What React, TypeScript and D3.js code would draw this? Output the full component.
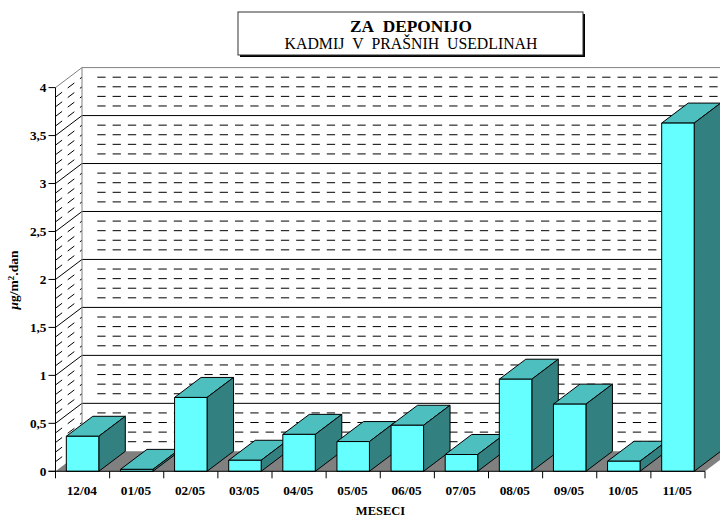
import React from "react";
import * as d3 from "d3";

const months = ["12/04","01/05","02/05","03/05","04/05","05/05","06/05","07/05","08/05","09/05","10/05","11/05"];
const cadmium = [0.365,0.02,0.77,0.115,0.385,0.31,0.48,0.175,0.96,0.70,0.105,3.63];
const yTicks = [0,0.5,1,1.5,2,2.5,3,3.5,4];
const minorTicks = [0.1,0.2,0.3,0.4,0.6,0.7,0.8,0.9,1.1,1.2,1.3,1.4,1.6,1.7,1.8,1.9,2.1,2.2,2.3,2.4,2.6,2.7,2.8,2.9,3.1,3.2,3.3,3.4,3.6,3.7,3.8,3.9];
const titleMain = "ZA\u00A0\u00A0DEPONIJO";
const titleSub = "KADMIJ\u00A0\u00A0V\u00A0\u00A0PRAŠNIH\u00A0\u00A0USEDLINAH";

const DX = 26.5, DY = -20;
const serif = "'Liberation Serif','Times New Roman',serif";

export default function App() {
  const x = d3.scaleBand<string>().domain(months).range([55.5, 705]).paddingInner(0.4).paddingOuter(0.2);
  const y = d3.scaleLinear().domain([0, 4]).range([471.3, 87.6]);
  const step = x.step();
  const w = x.bandwidth();
  const x0 = 55.5, xEnd = 705;
  const y0 = y(0);
  const dash = "8.3 7";
  return (
    <svg width={720} height={517} style={{ position: "absolute", left: 0, top: 0, background: "#fff", overflow: "hidden" }} fontFamily={serif}>
      {/* title */}
      <rect x={240} y={14} width={345} height={43} fill="#000" />
      <rect x={238} y={12} width={345} height={43} fill="#fff" stroke="#333" strokeWidth={1} />
      <text x={411} y={31.5} textAnchor="middle" fontSize={17.3} fontWeight="bold">{titleMain}</text>
      <text x={411} y={49} textAnchor="middle" fontSize={15.8}>{titleSub}</text>

      {/* walls */}
      <polygon points={[[x0,y0],[x0+DX,y0+DY],[xEnd+DX,y0+DY],[xEnd,y0]].join(" ")} fill="#808080" />
      {minorTicks.map(t => (
        <g key={t} stroke="#000" strokeWidth={1} strokeDasharray={dash}>
          <line x1={x0} y1={y(t)} x2={x0+DX} y2={y(t)+DY} />
          <line x1={x0+DX+15.3} y1={y(t)+DY} x2={720} y2={y(t)+DY} />
        </g>
      ))}
      {yTicks.slice(1, -1).map(t => (
        <g key={t} stroke="#000" strokeWidth={1}>
          <line x1={x0} y1={y(t)} x2={x0+DX} y2={y(t)+DY} />
          <line x1={x0+DX} y1={y(t)+DY} x2={720} y2={y(t)+DY} />
        </g>
      ))}
      <line x1={x0} y1={y(4)} x2={x0+DX} y2={y(4)+DY} stroke="#808080" />
      <line x1={x0+DX} y1={y(4)+DY} x2={720} y2={y(4)+DY} stroke="#808080" />
      <line x1={x0+DX} y1={y(4)+DY} x2={x0+DX} y2={y0+DY} stroke="#808080" />

      {/* bars */}
      {months.map((m, i) => {
        const l = x(m)!, r = l + w, t = y(cadmium[i]);
        return (
          <g key={m} stroke="#000" strokeWidth={1} strokeLinejoin="round">
            <polygon points={[[l,t],[r,t],[r+DX,t+DY],[l+DX,t+DY]].join(" ")} fill="#4dbfbf" />
            <polygon points={[[r,t],[r+DX,t+DY],[r+DX,y0+DY],[r,y0]].join(" ")} fill="#338080" />
            <rect x={l} y={t} width={w} height={y0-t} fill="#66ffff" />
          </g>
        );
      })}

      {/* axes */}
      <line x1={x0} y1={y(4)} x2={x0} y2={y0} stroke="#000" />
      <line x1={x0-7} y1={y0} x2={xEnd} y2={y0} stroke="#000" />
      {yTicks.map(t => (
        <g key={t}>
          <line x1={x0-7} x2={x0} y1={y(t)} y2={y(t)} stroke="#000" />
          <text x={x0-9} y={y(t)+4.5} textAnchor="end" fontSize={13.3} fontWeight="bold">{String(t).replace(".", ",")}</text>
        </g>
      ))}
      {d3.range(months.length + 1).map(i => (
        <line key={i} x1={x0+i*step} x2={x0+i*step} y1={y0} y2={y0+7} stroke="#000" />
      ))}
      {months.map(m => (
        <text key={m} x={x(m)!+w/2-0.7} y={495} textAnchor="middle" fontSize={13.3} fontWeight="bold">{m}</text>
      ))}
      <text x={380.5} y={515} textAnchor="middle" fontSize={12.5} fontWeight="bold">MESECI</text>
      <text transform="translate(18,280) rotate(-90)" textAnchor="middle" fontSize={13.5} fontWeight="bold">
        <tspan fontStyle="italic">μ</tspan>g/m<tspan fontSize={9} dy={-4.5}>2</tspan><tspan dy={4.5}>.dan</tspan>
      </text>
    </svg>
  );
}
